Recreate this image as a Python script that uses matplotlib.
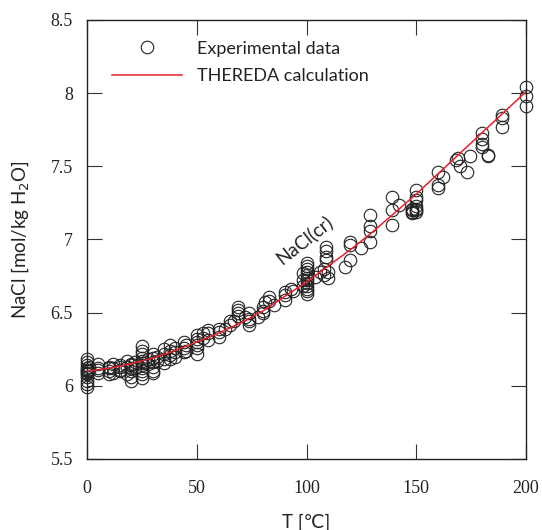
import matplotlib
matplotlib.use("Agg")
import matplotlib.pyplot as plt

# experimental solubility points, grouped by temperature
exp_T = (
    [0] * 12 + [1] * 2 + [5] * 4 + [10] * 4 + [12] * 3 + [15] * 4 + [18] * 3
    + [20] * 6 + [22] * 2 + [25] * 11 + [28] * 2 + [30] * 6 + [32] * 2
    + [35] * 4 + [38] * 4 + [40] * 3 + [44] * 3 + [45] * 2 + [50] * 6
    + [53] * 2 + [55] * 3 + [60] * 3 + [63] + [65] * 2 + [67] + [69] * 4
    + [72] + [74] * 4 + [78] + [80] * 3 + [81] + [83] * 2 + [85] + [90] * 3
    + [93] + [94] + [98.5] * 3 + [100] * 12 + [104] + [106] + [108] * 2
    + [109] * 4 + [110] * 2 + [117.5] + [120] * 3 + [125] + [129] * 4
    + [139] * 3 + [142] + [148] * 4 + [150] * 7 + [160] * 3 + [162]
    + [168] + [169] + [170] + [173] + [174.5] + [180] * 4 + [182.7] * 2
    + [189] * 3 + [200] * 3
)
exp_m = [
    6.18, 6.16, 6.14, 6.12, 6.11, 6.10, 6.09, 6.08, 6.06, 6.03, 6.01, 5.99,
    6.13, 6.10,
    6.15, 6.12, 6.09, 6.11,
    6.12, 6.10, 6.08, 6.13,
    6.15, 6.12, 6.09,
    6.13, 6.11, 6.14, 6.10,
    6.17, 6.13, 6.08,
    6.14, 6.12, 6.10, 6.06, 6.03, 6.15,
    6.16, 6.12,
    6.27, 6.24, 6.22, 6.19, 6.17, 6.155, 6.14, 6.12, 6.10, 6.08, 6.05,
    6.18, 6.15,
    6.22, 6.19, 6.16, 6.13, 6.10, 6.09,
    6.17, 6.20,
    6.25, 6.22, 6.18, 6.155,
    6.28, 6.24, 6.21, 6.18,
    6.23, 6.20, 6.26,
    6.30, 6.26, 6.23,
    6.28, 6.24,
    6.35, 6.30, 6.28, 6.26, 6.22, 6.32,
    6.33, 6.36,
    6.36, 6.38, 6.31,
    6.39, 6.37, 6.335,
    6.39,
    6.415, 6.44,
    6.44,
    6.54, 6.50, 6.48, 6.52,
    6.47,
    6.495, 6.46, 6.415, 6.44,
    6.47,
    6.51, 6.50, 6.54,
    6.575,
    6.61, 6.58,
    6.55,
    6.64, 6.585, 6.62,
    6.665,
    6.65,
    6.77, 6.72, 6.68,
    6.84, 6.82, 6.80, 6.78, 6.76, 6.74, 6.72, 6.70, 6.68, 6.66, 6.65, 6.63,
    6.745,
    6.78,
    6.80, 6.76,
    6.95, 6.92, 6.88, 6.86,
    6.78, 6.74,
    6.81,
    6.985, 6.96, 6.86,
    6.94,
    7.17, 7.09, 7.06, 6.98,
    7.29, 7.20, 7.10,
    7.235,
    7.20, 7.19, 7.18, 7.21,
    7.34, 7.29, 7.27, 7.23, 7.20, 7.19, 7.21,
    7.46, 7.37, 7.35,
    7.43,
    7.54,
    7.555,
    7.50,
    7.46,
    7.57,
    7.73, 7.69, 7.65, 7.63,
    7.58, 7.57,
    7.85, 7.83, 7.77,
    8.04, 7.98, 7.91,
]

# THEREDA model curve
calc_T = [0, 10, 20, 30, 40, 50, 60, 70, 80, 90, 100,
          110, 120, 130, 140, 150, 160, 170, 180, 190, 200]
calc_m = [6.10, 6.12, 6.15, 6.19, 6.24, 6.30, 6.36, 6.43, 6.51, 6.61, 6.71,
          6.82, 6.93, 7.05, 7.18, 7.31, 7.45, 7.59, 7.73, 7.87, 8.01]

sans = ["Lato", "DejaVu Sans"]
serif = "Liberation Serif"

fig = plt.figure(figsize=(5.42, 5.30), dpi=100)
ax = fig.add_axes([0.1605, 0.134, 0.81, 0.8283])

ax.plot(exp_T, exp_m, "o", ms=9, mfc="none", mec="#222222", mew=0.8,
        label="Experimental data", clip_on=False, zorder=2)
ax.plot(calc_T, calc_m, "-", color="#e8202a", lw=1.1,
        label="THEREDA calculation", zorder=3)

ax.text(99, 7.0, "NaCl(cr)", rotation=38, ha="center", va="center",
        fontsize=13.5, family=sans, color="#222222")

ax.set_xlim(0, 200)
ax.set_ylim(5.5, 8.5)
ax.set_xticks([0, 50, 100, 150, 200])
ax.set_yticks([5.5, 6, 6.5, 7, 7.5, 8, 8.5])
ax.set_yticklabels(["5.5", "6", "6.5", "7", "7.5", "8", "8.5"])
ax.tick_params(direction="in", length=11, width=0.8, color="#333333",
               top=True, right=True, labelsize=13)
ax.tick_params(axis="x", pad=15)
ax.tick_params(axis="y", pad=10)
for lab in ax.get_xticklabels() + ax.get_yticklabels():
    lab.set_family(serif)
    lab.set_color("#222222")
for sp in ax.spines.values():
    sp.set_linewidth(1.0)
    sp.set_color("#222222")

ax.set_xlabel("T [\u2103]", family=sans, fontsize=13.5, labelpad=12,
              color="#222222")
ax.set_ylabel("NaCl [mol/kg H$_2$O]", family=sans, fontsize=13.5,
              labelpad=14, color="#222222")

leg = ax.legend(loc="upper left", bbox_to_anchor=(0.02, 0.99), frameon=False,
                handlelength=3.9, handletextpad=0.8, labelspacing=0.65,
                prop={"family": sans, "size": 13}, numpoints=1)
for t in leg.get_texts():
    t.set_color("#222222")

fig.savefig("out.png", dpi=100)
